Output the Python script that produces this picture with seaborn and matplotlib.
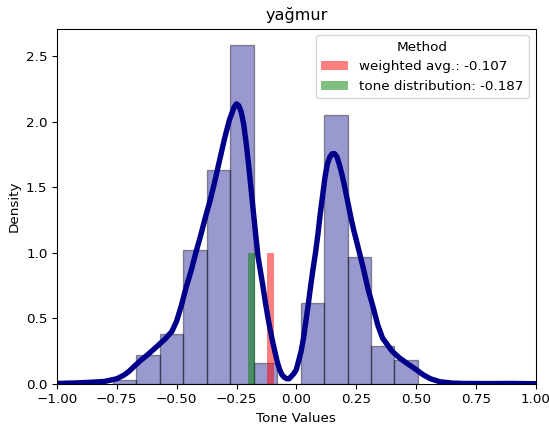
import matplotlib
matplotlib.use("Agg")
import matplotlib.pyplot as plt
import seaborn as sns
import pandas as pd

# Histogram of tone values (density per bin)
bin_edges = [-0.766, -0.668, -0.570, -0.472, -0.374, -0.276, -0.178,
             -0.080, 0.018, 0.116, 0.214, 0.312, 0.410, 0.509]
bin_density = [0.03, 0.22, 0.38, 1.02, 1.63, 2.58, 0.16,
               0.00, 0.62, 2.05, 0.97, 0.29, 0.18]

# Kernel density estimate of the tone values
kde_x = [-1.00, -0.92, -0.85, -0.80, -0.78, -0.75, -0.72, -0.70, -0.68,
         -0.65, -0.62, -0.58, -0.55, -0.52, -0.50, -0.48, -0.46, -0.44,
         -0.42, -0.40, -0.38, -0.36, -0.34, -0.32, -0.30, -0.28, -0.27,
         -0.26, -0.25, -0.24, -0.23, -0.22, -0.21, -0.20, -0.19, -0.18,
         -0.17, -0.16, -0.15, -0.14, -0.13, -0.12, -0.11, -0.10, -0.09,
         -0.08, -0.07, -0.06, -0.05, -0.04, -0.03, -0.02, -0.01, 0.00, 0.01,
         0.02, 0.03, 0.04, 0.05, 0.06, 0.07, 0.08, 0.09, 0.10, 0.11, 0.12,
         0.13, 0.14, 0.15, 0.16, 0.17, 0.18, 0.19, 0.20, 0.21, 0.22, 0.23,
         0.24, 0.25, 0.265, 0.28, 0.30, 0.32, 0.34, 0.36, 0.38, 0.40, 0.43,
         0.46, 0.50, 0.53, 0.56, 0.60, 0.65, 0.70, 0.80, 0.90, 1.00]
kde_y = [0.004, 0.008, 0.014, 0.020, 0.028, 0.040, 0.068, 0.095, 0.130,
         0.180, 0.225, 0.290, 0.340, 0.400, 0.480, 0.600, 0.740, 0.860,
         1.000, 1.130, 1.270, 1.400, 1.550, 1.710, 1.870, 2.010, 2.060,
         2.110, 2.135, 2.120, 2.070, 1.980, 1.840, 1.680, 1.500, 1.320,
         1.140, 0.970, 0.860, 0.750, 0.630, 0.520, 0.420, 0.330, 0.250,
         0.170, 0.110, 0.070, 0.050, 0.040, 0.040, 0.060, 0.080, 0.110, 0.180,
         0.250, 0.350, 0.480, 0.610, 0.750, 0.880, 1.000, 1.140, 1.300, 1.440,
         1.580, 1.680, 1.730, 1.755, 1.755, 1.730, 1.670, 1.600, 1.520, 1.430,
         1.340, 1.250, 1.170, 1.100, 0.990, 0.880, 0.720, 0.590, 0.450, 0.350,
         0.300, 0.250, 0.200, 0.160, 0.110, 0.070, 0.040, 0.017, 0.007, 0.004,
         0.003, 0.004, 0.002]

# Summary values per method
methods = ["weighted avg.", "tone distribution"]
method_values = [-0.107, -0.187]
method_colors = ["red", "green"]

bin_centers = [(a + b) / 2 for a, b in zip(bin_edges[:-1], bin_edges[1:])]
hist_df = pd.DataFrame({"tone": bin_centers, "density": bin_density})
kde_df = pd.DataFrame({"tone": kde_x, "density": kde_y})

DPI = 97
fig = plt.figure(figsize=(549 / DPI, 430 / DPI), dpi=DPI)
ax = fig.add_axes([0.1038, 0.107, 0.872, 0.8267])

sns.histplot(data=hist_df, x="tone", weights="density", bins=bin_edges,
             stat="count", color="darkblue", alpha=0.4,
             edgecolor=(0, 0, 0, 0.4), linewidth=1, ax=ax)
sns.lineplot(data=kde_df, x="tone", y="density", color="darkblue",
             linewidth=4, ax=ax)

for name, val, col in zip(methods, method_values, method_colors):
    ax.bar(val, 1.0, width=0.03, color=col, alpha=0.5,
           label=f"{name}: {val}")

ax.set_xlim(-1, 1)
ax.set_title("yağmur", fontsize=12)
ax.set_xlabel("Tone Values")
ax.set_ylabel("Density")
ax.legend(title="Method", loc="upper right")

fig.savefig("out.png", dpi=DPI)
